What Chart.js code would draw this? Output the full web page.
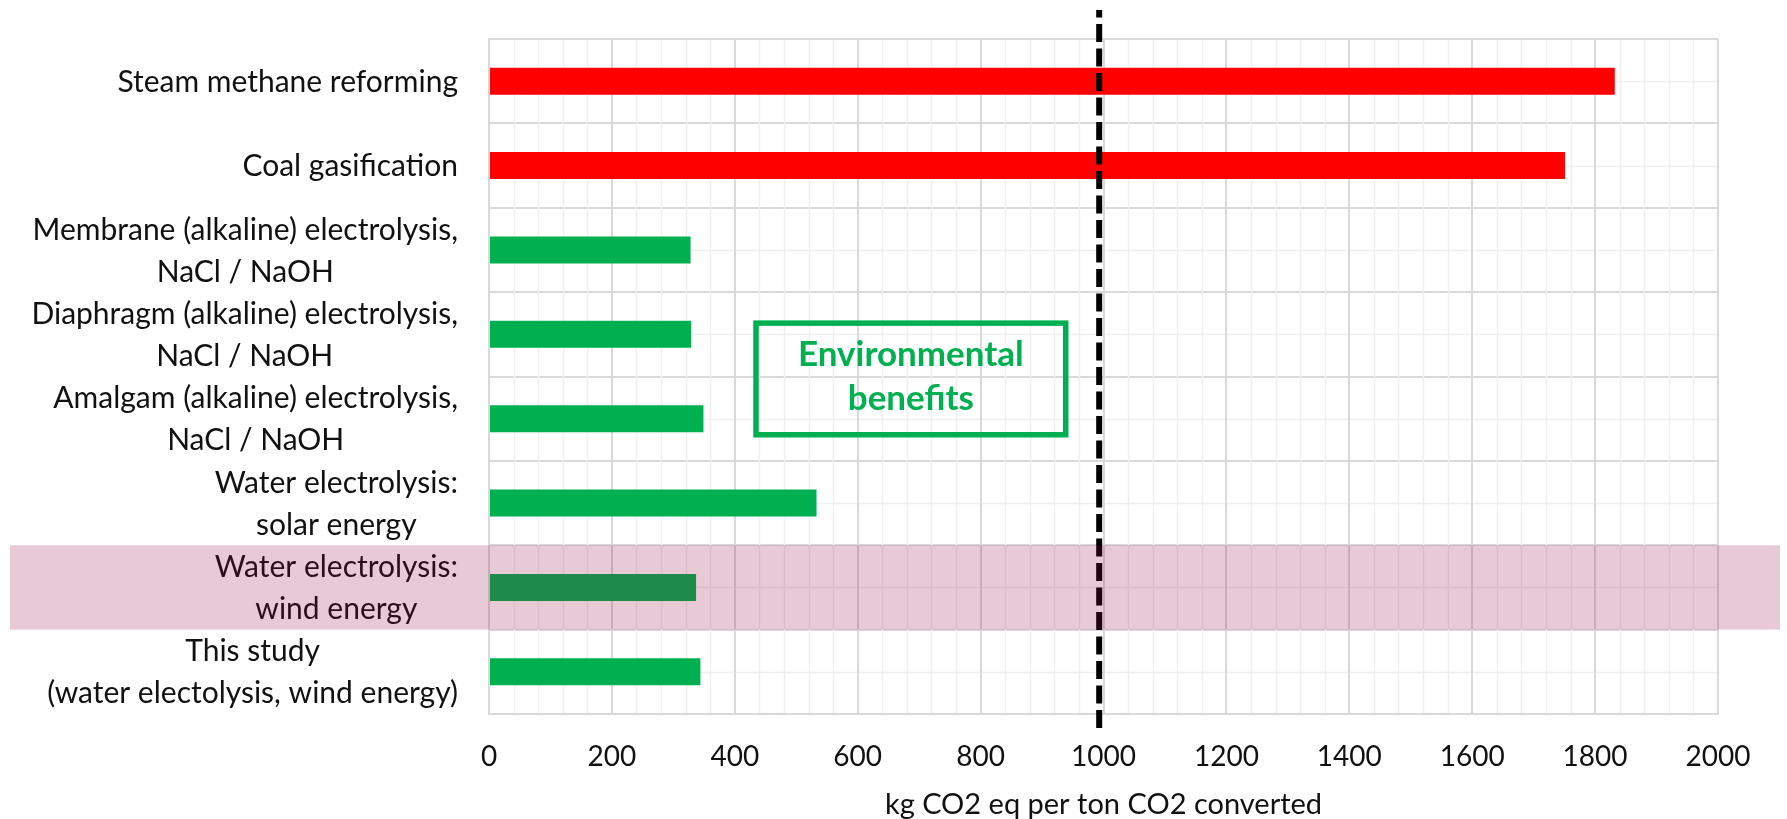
<!DOCTYPE html>
<html>
<head>
<meta charset="utf-8">
<script src="https://cdn.jsdelivr.net/npm/chart.js@4/dist/chart.umd.min.js"></script>
<style>
  html, body { margin: 0; padding: 0; background: #ffffff; }
  #wrap { width: 1787px; height: 819px; position: relative; }
</style>
</head>
<body>
<div id="wrap"><canvas id="chart" width="1787" height="819"></canvas></div>
<script>
// Emission intensity of each route (kg CO2 eq per ton CO2 converted)
const categories = [
  ['Steam methane reforming'],
  ['Coal gasification'],
  ['Membrane (alkaline) electrolysis,', 'NaCl / NaOH'],
  ['Diaphragm (alkaline) electrolysis,', 'NaCl / NaOH'],
  ['Amalgam (alkaline) electrolysis,', 'NaCl / NaOH'],
  ['Water electrolysis:', 'solar energy'],
  ['Water electrolysis:', 'wind energy'],
  ['This study', '(water electolysis, wind energy)']
];
const emissions = [1832, 1751, 328, 329, 349, 533, 337, 344];
const xTickValues = [0, 200, 400, 600, 800, 1000, 1200, 1400, 1600, 1800, 2000];
const thresholdValue = 993;          // break-even reference (dashed line)
const highlightIndex = 6;            // shaded row
const boxLines = ['Environmental', 'benefits'];
const axisTitle = 'kg CO2 eq per ton CO2 converted';

const FONT = 'Lato, "Open Sans", sans-serif';
const TEXT = '#111111';
const RED = '#ff0000';
const GREEN = '#00b050';
const MAJOR = '#d9d9d9';
const MINOR = '#efefef';

// light minor grid: every 40 units on x, row centres on y
const minorGrid = {
  id: 'minorGrid',
  beforeDatasetsDraw(chart) {
    const { ctx, chartArea: a, scales: { x, y } } = chart;
    ctx.save();
    ctx.strokeStyle = MINOR;
    ctx.lineWidth = 1.5;
    ctx.beginPath();
    for (let v = 40; v < 2000; v += 40) {
      if (v % 200 === 0) continue;
      const px = Math.round(x.getPixelForValue(v)) + 0.5;
      ctx.moveTo(px, a.top + 1);
      ctx.lineTo(px, a.bottom - 1);
    }
    categories.forEach((_, i) => {
      const py = Math.round(y.getPixelForValue(i)) + 0.5;
      ctx.moveTo(a.left + 1, py);
      ctx.lineTo(a.right - 1, py);
    });
    ctx.stroke();
    // redraw major verticals on top of the minor horizontals
    ctx.strokeStyle = MAJOR;
    ctx.lineWidth = 2;
    ctx.beginPath();
    xTickValues.forEach(v => {
      const px = Math.round(x.getPixelForValue(v));
      ctx.moveTo(px, a.top);
      ctx.lineTo(px, a.bottom);
    });
    ctx.stroke();
    ctx.restore();
  }
};

// category labels: block right-aligned to the axis, lines centred in the block
const rowLabels = {
  id: 'rowLabels',
  afterDatasetsDraw(chart) {
    const { ctx, chartArea: a, scales: { y } } = chart;
    ctx.save();
    ctx.font = '30px ' + FONT;
    ctx.fillStyle = TEXT;
    ctx.textBaseline = 'middle';
    ctx.textAlign = 'center';
    const right = a.left - 31;
    const lineGap = 42;
    categories.forEach((lines, i) => {
      const cy = y.getPixelForValue(i) + 1;
      const w = Math.max(...lines.map(t => ctx.measureText(t).width));
      const cx = right - w / 2;
      lines.forEach((t, k) => {
        ctx.fillText(t, cx, cy + (k - (lines.length - 1) / 2) * lineGap);
      });
    });
    ctx.restore();
  }
};

// dashed reference line and the annotation box
const annotations = {
  id: 'annotations',
  afterDatasetsDraw(chart) {
    const { ctx, scales: { x, y } } = chart;
    ctx.save();
    // annotation box
    const bx0 = x.getPixelForValue(430), bx1 = x.getPixelForValue(943);
    const by0 = y.getPixelForValue(2.835), by1 = y.getPixelForValue(4.223);
    ctx.strokeStyle = GREEN;
    ctx.lineWidth = 5.5;
    ctx.strokeRect(bx0 + 2.75, by0 + 2.75, bx1 - bx0 - 5.5, by1 - by0 - 5.5);
    ctx.fillStyle = GREEN;
    ctx.font = 'bold 35px ' + FONT;
    ctx.textAlign = 'center';
    ctx.textBaseline = 'alphabetic';
    const cx = (bx0 + bx1) / 2;
    ctx.fillText(boxLines[0], cx, by0 + 46);
    ctx.fillText(boxLines[1], cx, by0 + 89.5);
    // dashed threshold line
    const tx = x.getPixelForValue(thresholdValue);
    ctx.strokeStyle = '#000000';
    ctx.lineWidth = 6;
    ctx.setLineDash([18, 6.5]);
    ctx.beginPath();
    ctx.moveTo(tx, 728);
    ctx.lineTo(tx, 10);
    ctx.stroke();
    ctx.restore();
  }
};

// translucent highlight across the whole width of the selected row
const highlightRow = {
  id: 'highlightRow',
  afterDraw(chart) {
    const { ctx, scales: { y } } = chart;
    const top = y.getPixelForValue(highlightIndex - 0.5);
    const bottom = y.getPixelForValue(highlightIndex + 0.5);
    ctx.save();
    ctx.fillStyle = 'rgba(144, 3, 56, 0.21)';
    ctx.fillRect(10, top, 1770, bottom - top);
    ctx.restore();
  }
};

new Chart(document.getElementById('chart'), {
  type: 'bar',
  data: {
    labels: categories.map(l => l.join(' ')),
    datasets: [{
      data: emissions,
      backgroundColor: emissions.map(v => v > thresholdValue ? RED : GREEN),
      borderWidth: 0,
      barPercentage: 0.32,
      categoryPercentage: 1
    }]
  },
  options: {
    indexAxis: 'y',
    responsive: false,
    animation: false,
    devicePixelRatio: 1,
    layout: { padding: { top: 39, right: 69, left: 0, bottom: 0 } },
    plugins: { legend: { display: false }, tooltip: { enabled: false } },
    scales: {
      x: {
        min: 0,
        max: 2000,
        afterBuildTicks(s) { s.ticks = xTickValues.map(v => ({ value: v })); },
        afterFit(s) { s.height = 105; },
        ticks: {
          callback: v => String(v),
          font: { family: FONT, size: 28 },
          color: TEXT,
          padding: 26,
          maxRotation: 0
        },
        grid: { color: MAJOR, lineWidth: 2, drawTicks: false },
        border: { color: MAJOR, width: 2 },
        title: {
          display: true,
          text: axisTitle,
          font: { family: FONT, size: 29, lineHeight: 1 },
          color: TEXT,
          padding: { top: 21, bottom: 0 }
        }
      },
      y: {
        ticks: { display: false },
        grid: { color: MAJOR, lineWidth: 2, drawTicks: false, offset: true },
        border: { color: MAJOR, width: 2 },
        afterFit(s) { s.width = 489; }
      }
    }
  },
  plugins: [minorGrid, rowLabels, annotations, highlightRow]
});
</script>
</body>
</html>
